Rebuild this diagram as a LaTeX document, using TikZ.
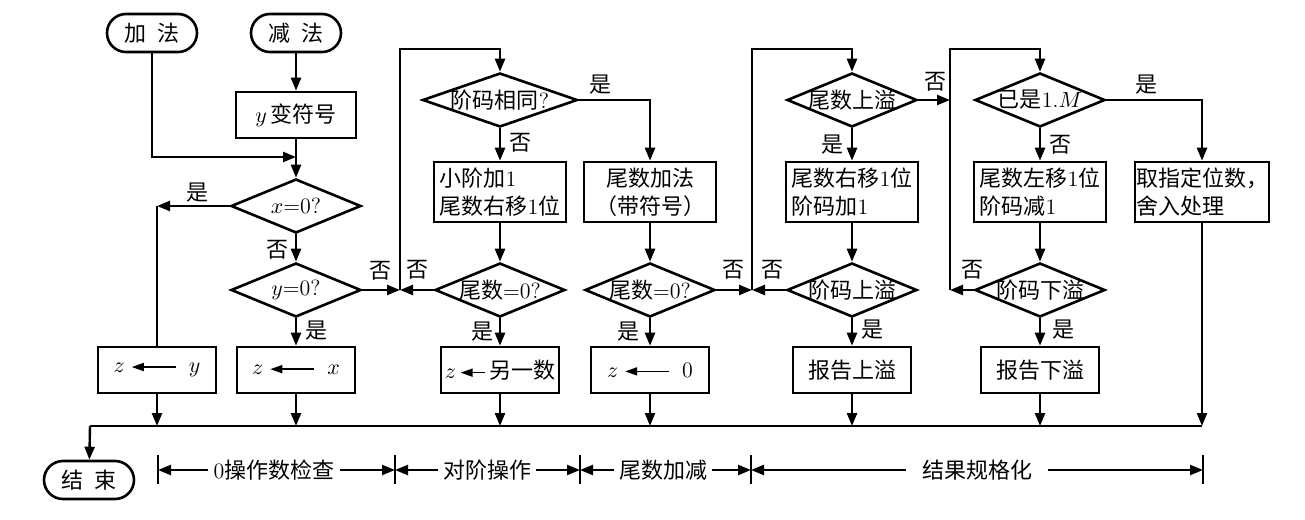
\documentclass[tikz,border=0pt]{standalone}
\usepackage{fontspec}
\newfontfamily\cjk{Noto Sans CJK SC}
\usetikzlibrary{shapes.geometric,arrows.meta}
\newcommand{\zh}[1]{{\cjk #1}}
\newcommand{\larr}[1]{\tikz[baseline=-0.6ex]\draw[line width=0.8pt,-{Triangle[length=6pt,width=4pt]}](#1,0pt)--(0pt,0pt);}
\begin{document}
\begin{tikzpicture}[x=0.5pt,y=-0.5pt,
  every node/.style={font=\fontsize{11}{14}\selectfont},
  term/.style={draw,line width=1.3pt,rounded corners=9.5pt,minimum width=45pt,minimum height=19pt,inner sep=0pt},
  box/.style={draw,line width=1.3pt,minimum width=59pt,minimum height=23pt,inner sep=1.5pt},
  bigbox/.style={box,minimum width=66pt,minimum height=30pt,align=left},
  dia/.style={draw,diamond,line width=1.3pt,inner sep=0pt,minimum width=65pt,minimum height=27pt},
  lab/.style={inner sep=0pt},
  dim/.style={inner sep=2.5pt},
  ln/.style={line width=1.2pt},
  flow/.style={line width=1.2pt,-{Triangle[length=6.5pt,width=5pt]}}
]
\useasboundingbox (0,0) rectangle (1305,519);

% terminals
\node[term] (add) at (152,33) {\zh{加\hspace{0.5em}法}};
\node[term] (sub) at (296,33) {\zh{减\hspace{0.5em}法}};
\node[term] (fin) at (89,480) {\zh{结\hspace{0.5em}束}};

% boxes
\node[box,minimum width=60pt] (yneg) at (296,115) {$y$\,\zh{变符号}};
\node[box] (zy) at (157,370) {$z$\;\larr{22pt}\;\;$y$};
\node[box] (zx) at (296,370) {$z$\;\larr{22pt}\;\;$x$};
\node[bigbox] (shift1) at (500,192) {\zh{小阶加}1\\\zh{尾数右移}1\zh{位}};
\node[bigbox,align=center] (madd) at (650,192) {\zh{尾数加法}\\\zh{（带符号）}};
\node[box] (zother) at (500,370) {$z$\,\larr{12pt}\,\zh{另一数}};
\node[box] (zzero) at (650,370) {$z$\;\larr{22pt}\;\;0};
\node[bigbox] (rshift) at (852,192) {\zh{尾数右移}1\zh{位}\\\zh{阶码加}1};
\node[bigbox] (lshift) at (1040,192) {\zh{尾数左移}1\zh{位}\\\zh{阶码减}1};
\node[bigbox,inner sep=0.5pt] (round) at (1202,192) {\zh{取指定位数，}\\\zh{舍入处理}};
\node[box] (ovf) at (852,370) {\zh{报告上溢}};
\node[box] (unf) at (1040,370) {\zh{报告下溢}};

% diamonds
\node[dia] (dx) at (296,206) {\makebox[0pt]{$x$=0?}};
\node[dia] (dy) at (296,290) {\makebox[0pt]{$y$=0?}};
\node[dia,minimum width=77.5pt] (dsame) at (500,100) {\makebox[0pt]{\zh{阶码相同}?}};
\node[dia] (dm1) at (500,290) {\makebox[0pt]{\zh{尾数}=0?}};
\node[dia] (dm2) at (650,290) {\makebox[0pt]{\zh{尾数}=0?}};
\node[dia] (dmo) at (852,100) {\makebox[0pt]{\zh{尾数上溢}}};
\node[dia] (d1M) at (1040,100) {\makebox[0pt]{\zh{已是}1.$M$}};
\node[dia] (deo) at (852,290) {\makebox[0pt]{\zh{阶码上溢}}};
\node[dia] (deu) at (1040,290) {\makebox[0pt]{\zh{阶码下溢}}};

% junction coordinates
\coordinate (j1) at (296,157);
\coordinate (c1) at (157,206);
\coordinate (la) at (400,290);
\coordinate (ta) at (500,49);
\coordinate (lb) at (752,290);
\coordinate (tb) at (852,49);
\coordinate (mc) at (950,100);
\coordinate (lc) at (950,290);
\coordinate (tc) at (1040,49);
\coordinate (bL) at (90,426);
\coordinate (bR) at (1202,426);

% connectors: left part
\draw[flow] (sub) -- (yneg);
\draw[flow] (add.south) |- (j1);
\draw[flow] (yneg) -- (dx);
\draw[flow] (dx.west) -- (c1);
\draw[ln] (c1) -- (zy.north);
\draw[flow] (dx) -- (dy);
\draw[flow] (dy) -- (zx);
\draw[flow] (dy.east) -- (la);

% alignment part
\draw[flow] (dm1.west) -- (la);
\draw[flow] (la) |- (ta) -- (dsame.north);
\draw[flow] (dsame) -- (shift1);
\draw[flow] (dsame.east) -| (madd.north);
\draw[flow] (shift1) -- (dm1);
\draw[flow] (madd) -- (dm2);
\draw[flow] (dm1) -- (zother);
\draw[flow] (dm2) -- (zzero);
\draw[flow] (dm2.east) -- (lb);

% normalisation part
\draw[flow] (deo.west) -- (lb);
\draw[flow] (lb) |- (tb) -- (dmo.north);
\draw[flow] (dmo) -- (rshift);
\draw[flow] (rshift) -- (deo);
\draw[flow] (deo) -- (ovf);
\draw[flow] (dmo.east) -- (mc);
\draw[flow] (deu.west) -- (lc);
\draw[flow] (lc) |- (tc) -- (d1M.north);
\draw[flow] (d1M) -- (lshift);
\draw[flow] (lshift) -- (deu);
\draw[flow] (deu) -- (unf);
\draw[flow] (d1M.east) -| (round.north);

% bus
\draw[ln] (bL) -- (bR);
\draw[flow] (zy) -- (zy |- bL);
\draw[flow] (zx) -- (zx |- bL);
\draw[flow] (zother) -- (zother |- bL);
\draw[flow] (zzero) -- (zzero |- bL);
\draw[flow] (ovf) -- (ovf |- bL);
\draw[flow] (unf) -- (unf |- bL);
\draw[flow] (round) -- (bR);
\draw[flow] (bL) -- (fin);

% yes/no labels
\node[lab] at (197,193) {\zh{是}};
\node[lab] at (277,250) {\zh{否}};
\node[lab] at (380,271) {\zh{否}};
\node[lab] at (316,331) {\zh{是}};
\node[lab] at (600,85) {\zh{是}};
\node[lab] at (520,143) {\zh{否}};
\node[lab] at (417,270) {\zh{否}};
\node[lab] at (482,332) {\zh{是}};
\node[lab] at (733,270) {\zh{否}};
\node[lab] at (628,332) {\zh{是}};
\node[lab] at (935,82) {\zh{否}};
\node[lab] at (832,145) {\zh{是}};
\node[lab] at (772,270) {\zh{否}};
\node[lab] at (872,330) {\zh{是}};
\node[lab] at (1146,85) {\zh{是}};
\node[lab] at (1060,145) {\zh{否}};
\node[lab] at (972,270) {\zh{否}};
\node[lab] at (1063,330) {\zh{是}};

% dimension line
\foreach \k/\xx in {1/158,2/395,3/580,4/751,5/1203}{
  \draw[ln] (\xx,455) -- (\xx,484);
  \coordinate (k\k) at (\xx,470);
}
\node[dim] (s1) at (274,470) {0\zh{操作数检查}};
\node[dim] (s2) at (487,470) {\zh{对阶操作}};
\node[dim] (s3) at (663,470) {\zh{尾数加减}};
\node[dim,inner sep=8pt] (s4) at (977,470) {\zh{结果规格化}};
\draw[flow] (s1.west) -- (k1);
\draw[flow] (s1.east) -- (k2);
\draw[flow] (s2.west) -- (k2);
\draw[flow] (s2.east) -- (k3);
\draw[flow] (s3.west) -- (k3);
\draw[flow] (s3.east) -- (k4);
\draw[flow] (s4.west) -- (k4);
\draw[flow] (s4.east) -- (k5);
\end{tikzpicture}
\end{document}
